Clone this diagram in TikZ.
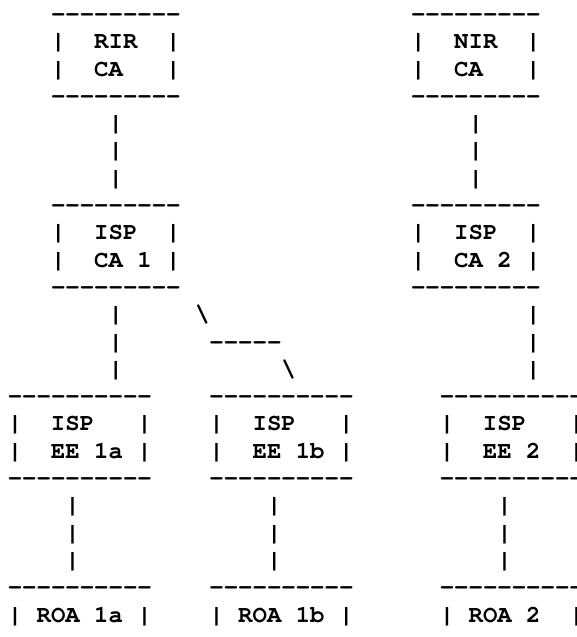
\documentclass[tikz,border=0pt]{standalone}
\usepackage{fontspec}
\setmonofont{TeX Gyre Cursor}
\newcommand\asc[4]{\node[ascii] (#1) at ({7.8+14.4*#2},{-21.4-27.3*#3}) {#4};}
\begin{document}
\begin{tikzpicture}[x=1pt,y=1pt,
  ascii/.style={anchor=base west, inner sep=0pt, outer sep=0pt,
    font=\ttfamily\bfseries\fontsize{24pt}{27.3pt}\selectfont}]
\useasboundingbox (0,0) rectangle (577,-637);
% top row boxes
\asc{rirT}{3}{0}{---------}
\asc{nirT}{28}{0}{---------}
\asc{rirA}{3}{1}{|~~RIR~~|}
\asc{nirA}{28}{1}{|~~NIR~~|}
\asc{rirB}{3}{2}{|~~CA~~~|}
\asc{nirB}{28}{2}{|~~CA~~~|}
\asc{rirU}{3}{3}{---------}
\asc{nirU}{28}{3}{---------}
% links to ISP CAs
\asc{lA1}{7}{4}{|}
\asc{lA2}{7}{5}{|}
\asc{lA3}{7}{6}{|}
\asc{lB1}{32}{4}{|}
\asc{lB2}{32}{5}{|}
\asc{lB3}{32}{6}{|}
% ISP CA boxes
\asc{ca1T}{3}{7}{---------}
\asc{ca2T}{28}{7}{---------}
\asc{ca1A}{3}{8}{|~~ISP~~|}
\asc{ca2A}{28}{8}{|~~ISP~~|}
\asc{ca1B}{3}{9}{|~~CA~1~|}
\asc{ca2B}{28}{9}{|~~CA~2~|}
\asc{ca1U}{3}{10}{---------}
\asc{ca2U}{28}{10}{---------}
% links to EEs
\asc{lC1}{7}{11}{|}
\asc{lC2}{7}{12}{|}
\asc{lC3}{7}{13}{|}
\asc{lD1}{13}{11}{\textbackslash}
\asc{lD2}{14}{12}{-----}
\asc{lD3}{19}{13}{\textbackslash}
\asc{lE1}{36}{11}{|}
\asc{lE2}{36}{12}{|}
\asc{lE3}{36}{13}{|}
% EE boxes
\asc{eeaT}{0}{14}{----------}
\asc{eebT}{14}{14}{----------}
\asc{eecT}{30}{14}{----------}
\asc{eeaA}{0}{15}{|~~ISP~~~|}
\asc{eebA}{14}{15}{|~~ISP~~~|}
\asc{eecA}{30}{15}{|~~ISP~~~|}
\asc{eeaB}{0}{16}{|~~EE~1a~|}
\asc{eebB}{14}{16}{|~~EE~1b~|}
\asc{eecB}{30}{16}{|~~EE~2~~|}
\asc{eeaU}{0}{17}{----------}
\asc{eebU}{14}{17}{----------}
\asc{eecU}{30}{17}{----------}
% links to ROAs
\asc{lF1}{4}{18}{|}
\asc{lF2}{4}{19}{|}
\asc{lF3}{4}{20}{|}
\asc{lG1}{18}{18}{|}
\asc{lG2}{18}{19}{|}
\asc{lG3}{18}{20}{|}
\asc{lH1}{34}{18}{|}
\asc{lH2}{34}{19}{|}
\asc{lH3}{34}{20}{|}
% ROA boxes
\asc{roaaT}{0}{21}{----------}
\asc{roabT}{14}{21}{----------}
\asc{roacT}{30}{21}{----------}
\asc{roaaA}{0}{22}{|~ROA~1a~|}
\asc{roabA}{14}{22}{|~ROA~1b~|}
\asc{roacA}{30}{22}{|~ROA~2~~|}
\end{tikzpicture}
\end{document}
